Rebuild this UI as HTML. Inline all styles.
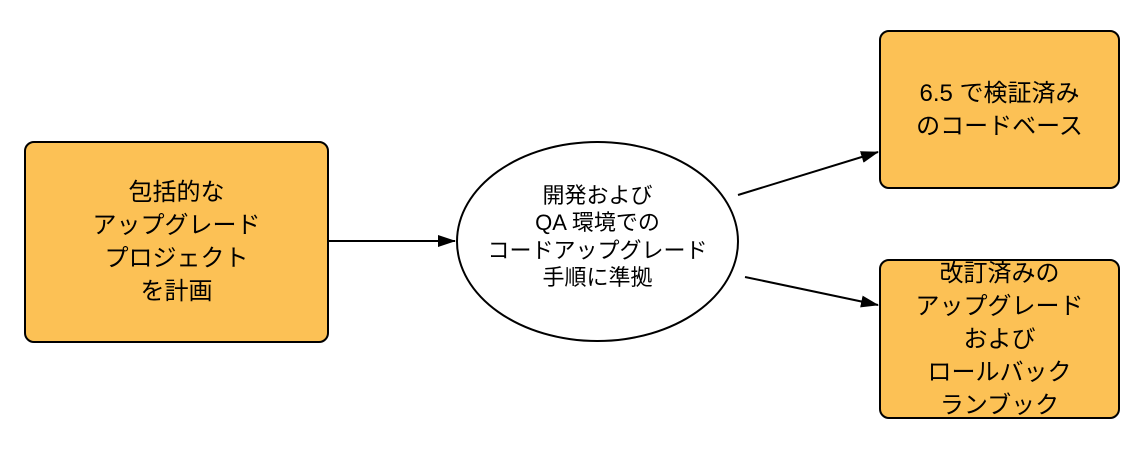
<!DOCTYPE html>
<html><head><meta charset="utf-8"><style>
html,body{margin:0;padding:0;background:#fff;}
body{width:1147px;height:467px;position:relative;overflow:hidden;font-family:"Liberation Sans","Noto Sans CJK JP",sans-serif;color:#000;}
.box{position:absolute;background:#fcc155;border:2px solid #000;border-radius:10px;box-sizing:border-box;display:flex;align-items:center;justify-content:center;text-align:center;font-size:24px;line-height:33px;}
.ell{position:absolute;left:456px;top:141px;width:283px;height:201px;border:2px solid #000;border-radius:50%;box-sizing:border-box;background:#fff;display:flex;align-items:center;justify-content:center;text-align:center;font-size:22px;line-height:27.3px;white-space:nowrap;padding-bottom:10px;}
svg{position:absolute;left:0;top:0;}
</style></head><body>
<svg width="1147" height="467">
<defs><marker id="b" markerWidth="18" markerHeight="12" refX="17" refY="6" orient="auto" markerUnits="userSpaceOnUse"><path d="M0,0 L18,6 L0,12 z" fill="#000"/></marker></defs>
<line x1="328" y1="241" x2="455" y2="241" stroke="#000" stroke-width="2" marker-end="url(#b)"/>
<line x1="738" y1="195" x2="878" y2="152" stroke="#000" stroke-width="2" marker-end="url(#b)"/>
<line x1="745" y1="277" x2="878" y2="305" stroke="#000" stroke-width="2" marker-end="url(#b)"/>
</svg>
<div class="box" style="left:24px;top:141px;width:305px;height:202px;">包括的な<br>アップグレード<br>プロジェクト<br>を計画</div>
<div class="ell">開発および<br>QA 環境での<br>コードアップグレード<br>手順に準拠</div>
<div class="box" style="left:879px;top:30px;width:241px;height:159px;">6.5 で検証済み<br>のコードベース</div>
<div class="box" style="left:879px;top:259px;width:241px;height:160px;">改訂済みの<br>アップグレード<br>および<br>ロールバック<br>ランブック</div>
</body></html>
